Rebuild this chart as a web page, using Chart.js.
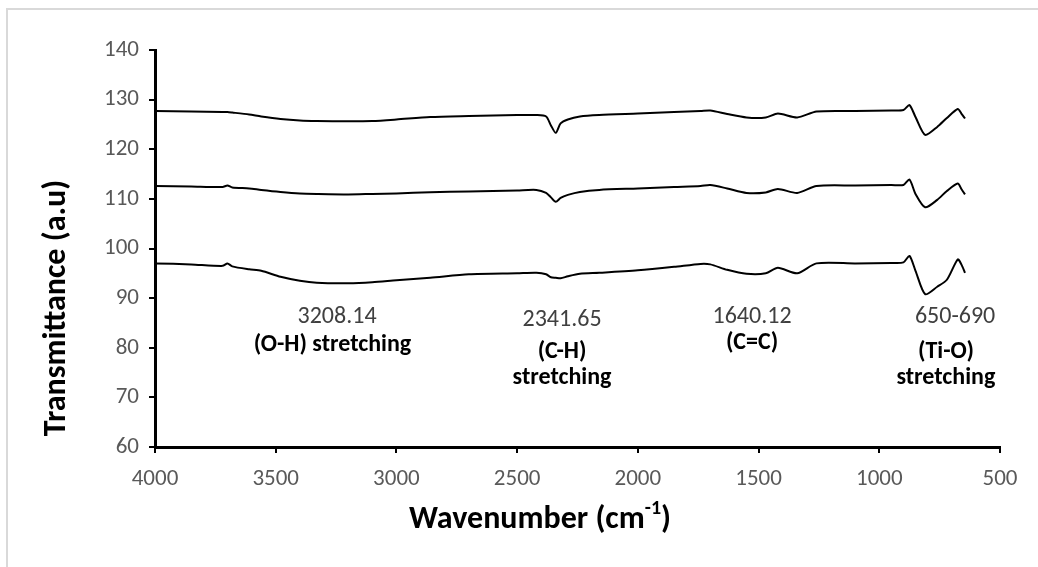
<!DOCTYPE html>
<html>
<head>
<meta charset="utf-8">
<script src="https://cdn.jsdelivr.net/npm/chart.js@4.4.0/dist/chart.umd.min.js"></script>
<style>
  body { margin: 0; background: #fff; }
  #wrap { position: relative; width: 1038px; height: 567px; }
</style>
</head>
<body>
<div id="wrap"><canvas id="myChart" width="1038" height="567"></canvas></div>
<script>
// wavenumbers (cm-1)
let wavenumbers = [4000, 3850, 3720, 3700, 3680, 3610, 3560, 3480, 3400, 3330, 3200, 3100, 3000, 2860, 2700, 2500, 2420, 2380, 2360, 2340, 2320, 2290, 2240, 2160, 2000, 1850, 1740, 1700, 1630, 1550, 1470, 1420, 1340, 1260, 1100, 950, 900, 875, 850, 810, 760, 720, 675, 660, 645];

let topCurve = [127.7, 127.6, 127.5, 127.5, 127.4, 127.0, 126.6, 126.1, 125.8, 125.7, 125.65, 125.7, 126.0, 126.5, 126.7, 126.9, 126.9, 126.6, 124.8, 123.3, 125.2, 126.0, 126.6, 126.9, 127.2, 127.5, 127.7, 127.8, 127.1, 126.4, 126.4, 127.2, 126.4, 127.6, 127.7, 127.8, 127.9, 128.9, 126.5, 122.9, 124.5, 126.3, 128.1, 127.2, 126.2];

let middleCurve = [112.6, 112.5, 112.4, 112.7, 112.3, 112.1, 111.8, 111.4, 111.1, 111.0, 110.9, 111.0, 111.1, 111.35, 111.5, 111.7, 111.8, 111.2, 110.3, 109.4, 110.2, 110.8, 111.4, 111.8, 112.1, 112.4, 112.6, 112.8, 112.1, 111.2, 111.3, 112.0, 111.2, 112.6, 112.7, 112.8, 112.8, 113.9, 111.0, 108.3, 109.8, 111.6, 113.1, 112.0, 110.9];

let bottomCurve = [97.0, 96.8, 96.5, 97.0, 96.4, 95.8, 95.5, 94.3, 93.5, 93.1, 93.0, 93.2, 93.6, 94.1, 94.8, 95.0, 95.1, 94.8, 94.2, 94.1, 94.0, 94.4, 94.9, 95.1, 95.6, 96.3, 96.9, 96.8, 95.7, 94.9, 95.0, 96.1, 95.0, 97.0, 97.0, 97.1, 97.2, 98.5, 95.5, 90.8, 92.3, 93.7, 97.8, 96.8, 95.1];

// peak annotations: text lines (first line regular, rest bold), anchor in data units
let annotLines = [
    ["3208.14", "(O-H) stretching"],
    ["2341.65", "(C-H)", "stretching"],
    ["1640.12", "(C=C)"],
    ["650-690", "(Ti-O)", "stretching"]
];
let annotX = [[3246, 3265], [2314, 2314, 2314], [1527, 1527], [686, 724, 724]];
let annotY = [[86.2, 80.5], [85.6, 79.1, 73.9], [86.2, 81.0], [86.2, 79.1, 73.9]];

const FONT = "Carlito, Calibri, Lato, sans-serif";

function toPoints(vals) {
    return vals.map((v, i) => ({ x: wavenumbers[i], y: v }));
}

function lineSet(vals) {
    return {
        data: toPoints(vals),
        borderColor: "#000",
        borderWidth: 2,
        pointRadius: 0,
        tension: 0.25,
        fill: false
    };
}

const extras = {
    id: "extras",
    beforeDraw(chart) {
        const ctx = chart.ctx;
        ctx.save();
        ctx.strokeStyle = "#d9d9d9";
        ctx.lineWidth = 2;
        ctx.beginPath();
        ctx.moveTo(7, 567);
        ctx.lineTo(7, 9);
        ctx.lineTo(1038, 9);
        ctx.stroke();
        ctx.restore();
    },
    afterDraw(chart) {
        const ctx = chart.ctx;
        const xs = chart.scales.x, ys = chart.scales.y;
        ctx.save();
        ctx.textAlign = "center";
        ctx.textBaseline = "middle";
        annotLines.forEach((lines, i) => {
            lines.forEach((t, j) => {
                const bold = j > 0;
                ctx.font = (bold ? "bold " : "") + "24px " + FONT;
                ctx.fillStyle = bold ? "#000" : "#404040";
                ctx.fillText(t, xs.getPixelForValue(annotX[i][j]), ys.getPixelForValue(annotY[i][j]));
            });
        });

        // x axis title with superscript
        ctx.fillStyle = "#000";
        ctx.font = "bold 32px " + FONT;
        const a = "Wavenumber (cm", b = "-1", c = ")";
        ctx.textAlign = "left";
        const wa = ctx.measureText(a).width;
        const wc = ctx.measureText(c).width;
        ctx.font = "bold 20px " + FONT;
        const wb = ctx.measureText(b).width;
        let x0 = 540 - (wa + wb + wc) / 2;
        const yT = 520;
        ctx.font = "bold 32px " + FONT;
        ctx.fillText(a, x0, yT);
        ctx.font = "bold 20px " + FONT;
        ctx.fillText(b, x0 + wa, yT - 11);
        ctx.font = "bold 32px " + FONT;
        ctx.fillText(c, x0 + wa + wb, yT);

        // y axis title
        ctx.translate(57, 308);
        ctx.rotate(-Math.PI / 2);
        ctx.textAlign = "center";
        ctx.fillText("Transmittance (a.u)", 0, 0);
        ctx.restore();
    }
};

let config = {
    type: "line",
    data: {
        datasets: [lineSet(topCurve), lineSet(middleCurve), lineSet(bottomCurve)]
    },
    options: {
        responsive: false,
        animation: false,
        layout: { padding: { left: 0, right: 38, top: 50, bottom: 0 } },
        plugins: { legend: { display: false }, tooltip: { enabled: false } },
        scales: {
            x: {
                type: "linear",
                reverse: true,
                min: 500,
                max: 4000,
                afterFit: (s) => { s.height = 120; },
                ticks: { stepSize: 500, color: "#595959", padding: 12, font: { family: FONT, size: 23 }, callback: (v) => String(v) },
                grid: { drawOnChartArea: false, drawTicks: true, tickLength: 6, color: "#000", lineWidth: 2 },
                border: { color: "#000", width: 3 }
            },
            y: {
                min: 60,
                max: 140,
                afterFit: (s) => { s.width = 155; },
                ticks: { stepSize: 10, color: "#595959", padding: 10, font: { family: FONT, size: 23 }, callback: (v) => String(v) },
                grid: { drawOnChartArea: false, drawTicks: true, tickLength: 6, color: "#000", lineWidth: 2 },
                border: { color: "#000", width: 3 }
            }
        }
    },
    plugins: [extras]
};

let chart = new Chart(document.getElementById("myChart"), config);
</script>
</body>
</html>
